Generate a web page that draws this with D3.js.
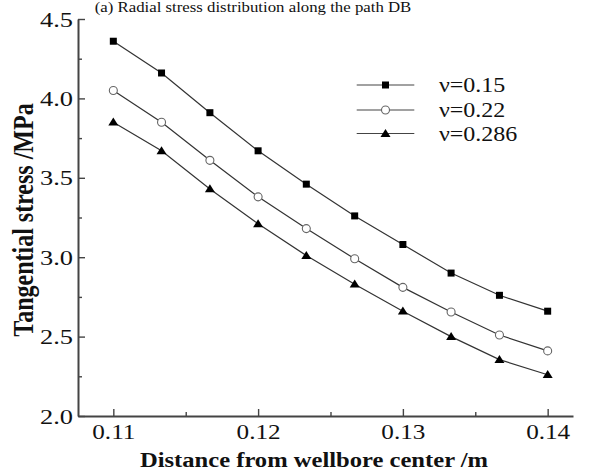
<!DOCTYPE html>
<html>
<head>
<meta charset="utf-8">
<script src="https://cdn.jsdelivr.net/npm/d3@7"></script>
<style>
  html, body { margin: 0; padding: 0; background: #fff; }
  svg { display: block; }
  text { font-family: "Liberation Serif", "Times New Roman", serif; fill: #111; }
</style>
</head>
<body>
<svg id="chart" width="614" height="474"></svg>
<script>
// ---- data ----
const distances = [0.11, 0.11333, 0.11667, 0.12, 0.12333, 0.12667, 0.13, 0.13333, 0.13667, 0.14];
const seriesNames = ["ν=0.15", "ν=0.22", "ν=0.286"];
const stressNu015 = [4.36, 4.16, 3.91, 3.67, 3.46, 3.26, 3.08, 2.90, 2.76, 2.66];
const stressNu022 = [4.05, 3.85, 3.61, 3.38, 3.18, 2.99, 2.81, 2.655, 2.51, 2.41];
const stressNu0286 = [3.85, 3.67, 3.43, 3.21, 3.01, 2.83, 2.66, 2.50, 2.355, 2.26];
const xTickValues = [0.11, 0.12, 0.13, 0.14];
const xMinorTicks = [0.115, 0.125, 0.135];
const yTickValues = [2.0, 2.5, 3.0, 3.5, 4.0, 4.5];
const yMinorTicks = [2.25, 2.75, 3.25, 3.75, 4.25];
const titleText = "(a) Radial stress distribution along the path DB";
const xLabel = "Distance from wellbore center /m";
const yLabel = "Tangential stress /MPa";

const series = [
  { name: seriesNames[0], values: stressNu015, marker: "square" },
  { name: seriesNames[1], values: stressNu022, marker: "circle" },
  { name: seriesNames[2], values: stressNu0286, marker: "triangle" }
];

// ---- layout ----
const svg = d3.select("#chart");
const mLeft = 78, mRight = 573, mTop = 19, mBottom = 416;
const SX = 1.2; // horizontal stretch of the original figure's glyphs

const x = d3.scaleLinear().domain([0.10756, 0.14175]).range([mLeft, mRight]);
const y = d3.scaleLinear().domain([2.0, 4.5]).range([mBottom, mTop]);

const axisColor = "#444";

// title
svg.append("text")
  .attr("transform", `translate(253,12) scale(${SX},1)`)
  .attr("text-anchor", "middle")
  .style("font-size", "14px")
  .text(titleText);

// y axis
const gy = svg.append("g").attr("transform", `translate(${mLeft},0)`);
gy.call(d3.axisLeft(y).tickValues(yTickValues).tickSize(-7).tickSizeOuter(0).tickFormat(d3.format(".1f")));
gy.append("g").call(d3.axisLeft(y).tickValues(yMinorTicks).tickSize(-4).tickSizeOuter(0).tickFormat(""))
  .select(".domain").remove();
gy.selectAll("text")
  .attr("x", 0)
  .attr("transform", `translate(-5,0) scale(${SX},1)`)
  .style("font-size", "22px")
  .attr("fill", "#222");

// x axis
const gx = svg.append("g").attr("transform", `translate(0,${mBottom})`);
gx.call(d3.axisBottom(x).tickValues(xTickValues).tickSize(-7).tickSizeOuter(0).tickFormat(d3.format(".2f")));
gx.append("g").call(d3.axisBottom(x).tickValues(xMinorTicks).tickSize(-4).tickSizeOuter(0).tickFormat(""))
  .select(".domain").remove();
gx.selectAll("text")
  .attr("y", 0)
  .attr("dy", 0)
  .attr("transform", `translate(0,23) scale(${SX},1)`)
  .style("font-size", "21px")
  .attr("fill", "#222");

svg.selectAll(".domain").attr("stroke", axisColor).attr("stroke-width", 2);
svg.selectAll(".tick line").attr("stroke", axisColor).attr("stroke-width", 1.4);

// axis labels
svg.append("text")
  .attr("transform", `translate(314,467) scale(${SX},1)`)
  .attr("text-anchor", "middle")
  .style("font-size", "20.5px")
  .style("font-weight", "bold")
  .text(xLabel);

svg.append("text")
  .attr("transform", `translate(33,220) scale(${SX},1) rotate(-90)`)
  .attr("text-anchor", "middle")
  .style("font-size", "24px")
  .style("font-weight", "bold")
  .text(yLabel);

// markers
function drawMarker(g, type, cx, cy) {
  if (type === "square") {
    g.append("rect").attr("x", cx - 3.5).attr("y", cy - 3.5).attr("width", 7).attr("height", 7)
      .attr("fill", "#000");
  } else if (type === "circle") {
    g.append("circle").attr("cx", cx).attr("cy", cy).attr("r", 4)
      .attr("fill", "#fff").attr("stroke", "#666").attr("stroke-width", 1.1);
  } else {
    g.append("path").attr("d", `M${cx},${cy - 4.6}L${cx + 5},${cy + 3.4}L${cx - 5},${cy + 3.4}Z`)
      .attr("fill", "#000");
  }
}

const line = d3.line().x((d, i) => x(distances[i])).y(d => y(d));
const plot = svg.append("g");
series.forEach(s => {
  plot.append("path").datum(s.values)
    .attr("d", line)
    .attr("fill", "none")
    .attr("stroke", "#333")
    .attr("stroke-width", 1.2);
});
series.forEach(s => {
  const g = plot.append("g");
  s.values.forEach((v, i) => drawMarker(g, s.marker, x(distances[i]), y(v)));
});

// legend
const legendRows = [85, 110, 133.5];
const legend = svg.append("g");
series.forEach((s, i) => {
  const ly = legendRows[i];
  legend.append("line").attr("x1", 356.7).attr("x2", 414.3).attr("y1", ly).attr("y2", ly)
    .attr("stroke", "#444").attr("stroke-width", 1.2);
  drawMarker(legend, s.marker, 385.5, ly);
  legend.append("text")
    .attr("transform", `translate(439,${ly + 7}) scale(${SX},1)`)
    .style("font-size", "20px")
    .text(s.name);
});
</script>
</body>
</html>
